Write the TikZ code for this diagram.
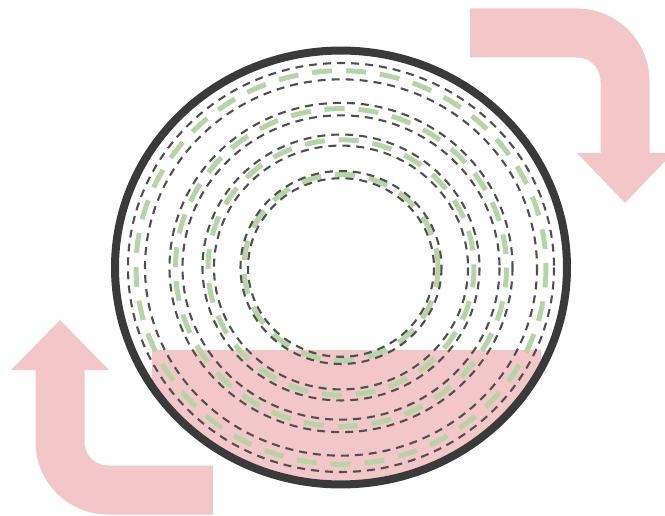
\documentclass[tikz,border=0pt]{standalone}
\usepackage{tikz}
\definecolor{ringpink}{RGB}{243,199,200}
\definecolor{ringgreen}{RGB}{181,213,166}
\definecolor{dashgray}{RGB}{80,80,80}
\definecolor{rimgray}{RGB}{58,58,58}
\tikzstyle{band} = [draw=ringpink, line width=49pt, rounded corners=48pt]
\tikzstyle{head} = [fill=ringpink]
\tikzstyle{graydash} = [draw=dashgray, line width=2.1pt, dash pattern=on 8pt off 6pt]
\tikzstyle{greendash} = [draw=ringgreen, line width=5pt, dash pattern=on 20pt off 14pt]
\tikzstyle{rim} = [draw=rimgray, line width=8pt]

\begin{document}
\begin{tikzpicture}[x=1pt, y=-1pt]
    \useasboundingbox (0,0) rectangle (665,516);

    % Turning arrow - top right
    \coordinate (topstart) at (470,33);
    \coordinate (topend) at (625,156);
    \draw[band] (topstart) -| (topend);
    \fill[head] (577,153) -- (673,153) -- (625,203) -- cycle;

    % Turning arrow - bottom left
    \coordinate (botstart) at (213,490);
    \coordinate (botend) at (60,367);
    \draw[band] (botstart) -| (botend);
    \fill[head] (11,370) -- (109,370) -- (60,320) -- cycle;

    \begin{scope}[shift={(341,267.5)}, yscale=0.96]
        % Filled lower part
        \begin{scope}
            \clip (0,0) circle (222);
            \fill[ringpink] (-189,86) rectangle (200,240);
        \end{scope}

        % Outer band
        \draw[greendash] (0,0) circle (205);
        \draw[graydash] (0,0) circle (213);
        \draw[graydash] (0,0) circle (196);

        % Second band
        \draw[greendash] (0,0) circle (165.5);
        \draw[graydash] (0,0) circle (171.5);
        \draw[graydash] (0,0) circle (158.5);

        % Third band
        \draw[greendash] (0,0) circle (133);
        \draw[graydash] (0,0) circle (138.5);
        \draw[graydash] (0,0) circle (127);

        % Inner band
        \draw[greendash] (0,0) circle (97);
        \draw[graydash] (0,0) circle (100.5);
        \draw[graydash] (0,0) circle (93);

        % Rim
        \draw[rim] (0,0) circle (226);
    \end{scope}
\end{tikzpicture}
\end{document}
